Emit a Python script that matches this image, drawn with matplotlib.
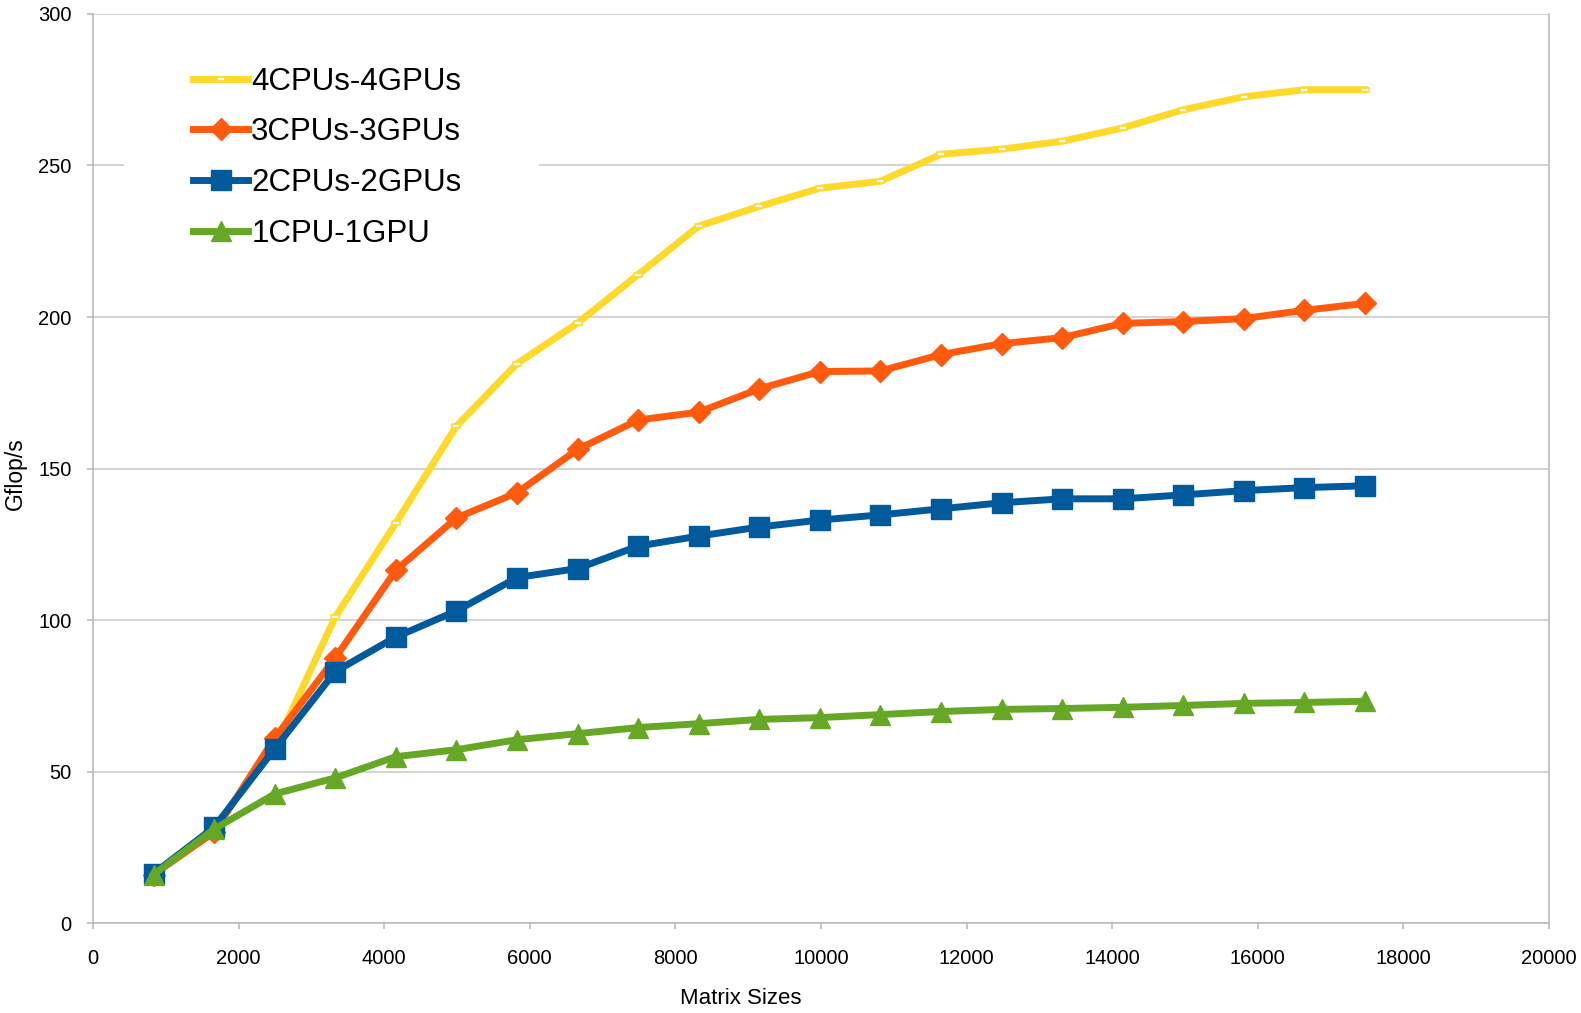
import matplotlib
matplotlib.use("Agg")
import matplotlib.pyplot as plt
from matplotlib.path import Path
from matplotlib.patches import Rectangle

plt.rcParams["font.family"] = ["Liberation Sans", "DejaVu Sans"]

matrix_sizes = [832, 1664, 2496, 3328, 4160, 4992, 5824, 6656, 7488, 8320, 9152,
                9984, 10816, 11648, 12480, 13312, 14144, 14976, 15808, 16640, 17472]

gflops_4cpu_4gpu = [16, 31, 58, 101, 132, 164, 184.6, 198, 214, 230, 236.5,
                    242.5, 244.8, 253.7, 255.4, 258, 262.4, 268.4, 272.7, 275, 275]
gflops_3cpu_3gpu = [16, 30, 61, 87.5, 116.4, 133.7, 142, 156.3, 166, 168.6, 176.3,
                    182, 182.2, 187.6, 191.2, 193.2, 197.9, 198.5, 199.5, 202.2, 204.5]
gflops_2cpu_2gpu = [16.3, 31.6, 57.5, 83, 94.4, 103, 114, 117, 124.4, 127.7, 130.7,
                    133, 134.7, 136.7, 138.7, 140, 140, 141.3, 142.7, 143.7, 144.3]
gflops_1cpu_1gpu = [16, 31, 42.6, 47.9, 54.9, 57.2, 60.5, 62.5, 64.5, 65.8, 67.2,
                    67.8, 68.8, 69.8, 70.5, 70.8, 71.2, 71.8, 72.5, 72.8, 73.2]

# small flat rectangle, like the hollow marks on the yellow series
flat_rect = Path([(-1, -0.45), (1, -0.45), (1, 0.45), (-1, 0.45), (-1, -0.45)],
                 [Path.MOVETO, Path.LINETO, Path.LINETO, Path.LINETO, Path.CLOSEPOLY])

fig = plt.figure(figsize=(15.81, 10.13), dpi=100)
ax = fig.add_axes([0.0588, 0.0888, 0.921, 0.8974])

lw = 5
ax.plot(matrix_sizes, gflops_4cpu_4gpu, color="#FFD92A", lw=lw, marker=flat_rect,
        markersize=6, markerfacecolor="white", markeredgecolor="#FFD92A",
        markeredgewidth=1.2, label="4CPUs-4GPUs", zorder=3)
ax.plot(matrix_sizes, gflops_3cpu_3gpu, color="#FF5A0E", lw=lw, marker="D",
        markersize=11, label="3CPUs-3GPUs", zorder=4)
ax.plot(matrix_sizes, gflops_2cpu_2gpu, color="#005A9C", lw=lw, marker="s",
        markersize=14, label="2CPUs-2GPUs", zorder=5)
ax.plot(matrix_sizes, gflops_1cpu_1gpu, color="#66A825", lw=lw, marker="^",
        markersize=14, label="1CPU-1GPU", zorder=6)

ax.set_xlim(0, 20000)
ax.set_ylim(0, 300)
ax.set_xticks(range(0, 20001, 2000))
ax.set_yticks(range(0, 301, 50))
ax.grid(axis="y", color="#CCCCCC", lw=1.2)
ax.grid(axis="x", visible=False)
ax.set_axisbelow(True)

for side in ("left", "bottom", "right"):
    ax.spines[side].set_color("#BBBBBB")
    ax.spines[side].set_linewidth(1.2)
ax.spines["top"].set_visible(False)
ax.tick_params(axis="both", colors="#BBBBBB", labelcolor="black", labelsize=14.5,
               length=4.5, width=1.2, direction="out")
ax.tick_params(axis="x", pad=14)
ax.tick_params(axis="y", pad=11)

fig.text(741 / 1581, 1 - 998 / 1013, "Matrix Sizes", fontsize=16,
         ha="center", va="center")
fig.text(15 / 1581, 1 - 474 / 1013, "Gflop/s", fontsize=16.5, rotation=90,
         ha="center", va="center")

# white legend background that cuts the 250 gridline
ax.add_patch(Rectangle((0.0213, 0.729), 0.285, 0.242, transform=ax.transAxes,
                       facecolor="white", edgecolor="none", zorder=2))

ax.legend(loc="upper left", bbox_to_anchor=(0.069, 0.942), fontsize=22.5,
          frameon=False, numpoints=1, handlelength=1.75, handletextpad=0.1,
          labelspacing=0.66, borderpad=0, borderaxespad=0)

fig.savefig("out.png", dpi=100)
